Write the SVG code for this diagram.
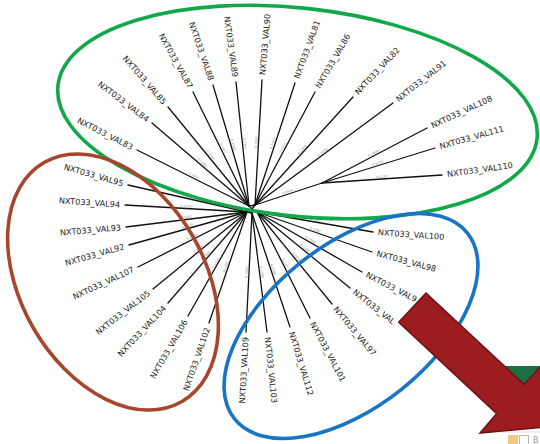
<svg xmlns="http://www.w3.org/2000/svg" width="540" height="444" viewBox="0 0 540 444">
  <style>
    .branch { stroke: #111; stroke-width: 1.3; fill: none; stroke-linecap: round; }
    .leaf { font-family: "DejaVu Sans", "Noto Sans", sans-serif; font-size: 8.1px; fill: #222222; }
    .len { font-family: "DejaVu Sans", sans-serif; font-size: 3.3px; fill: #8c8c8c; text-anchor: middle; }
    .start { text-anchor: start; }
    .end { text-anchor: end; }
    .ring { fill: none; stroke-width: 3.6; }
  </style>

  <rect width="540" height="444" fill="#ffffff"/>

  <!-- tree branches -->
  <g id="connectors">
    <!-- short internal branches meeting at the root -->
    <path class="branch" d="M252 209 L249 206 M252 209 L255 205 M252 209 L257 212 M252 209 L252 213 M252 209 L247 212 M249 206 L255 205 M247 212 L252 213"/>
    <path class="branch" d="M322 183 L255 205"/>
    <!-- upper-left clade -->
    <path class="branch" d="M249 206 L137 150"/>
    <path class="branch" d="M249 206 L152 123"/>
    <path class="branch" d="M249 206 L168 107"/>
    <path class="branch" d="M249 206 L193 92"/>
    <path class="branch" d="M249 206 L213 85"/>
    <path class="branch" d="M249 206 L236 82"/>
    <!-- upper-right clade -->
    <path class="branch" d="M255 205 L262 80"/>
    <path class="branch" d="M255 205 L295 83"/>
    <path class="branch" d="M255 205 L315 92"/>
    <path class="branch" d="M255 205 L353 97"/>
    <path class="branch" d="M255 205 L393 103"/>
    <path class="branch" d="M322 183 L427 128"/>
    <path class="branch" d="M322 183 L435 148"/>
    <path class="branch" d="M322 183 L442 175"/>
    <!-- left clade -->
    <path class="branch" d="M247 212 L128 185"/>
    <path class="branch" d="M247 212 L125 205"/>
    <path class="branch" d="M247 212 L126 227"/>
    <path class="branch" d="M247 212 L129 245"/>
    <path class="branch" d="M247 212 L138 267"/>
    <path class="branch" d="M247 212 L153 289"/>
    <path class="branch" d="M247 212 L168 303"/>
    <path class="branch" d="M247 212 L188 316"/>
    <path class="branch" d="M247 212 L209 323"/>
    <!-- lower clade -->
    <path class="branch" d="M252 213 L246 332"/>
    <path class="branch" d="M252 213 L267 332"/>
    <path class="branch" d="M252 213 L290 327"/>
    <path class="branch" d="M257 212 L310 318"/>
    <path class="branch" d="M257 212 L332 304"/>
    <path class="branch" d="M257 212 L350 288"/>
    <path class="branch" d="M257 212 L362 272"/>
    <path class="branch" d="M257 212 L372 252"/>
    <path class="branch" d="M257 212 L373 232"/>
  </g>

  <!-- branch lengths -->
  <g id="branch-lengths">
    <text class="len" x="193" y="178" dy="-1.2" transform="rotate(26.6 193 178)">0.1557</text>
    <text class="len" x="200.5" y="164.5" dy="-1.2" transform="rotate(40.6 200.5 164.5)">0.1389</text>
    <text class="len" x="208.5" y="156.5" dy="-1.2" transform="rotate(50.7 208.5 156.5)">0.1500</text>
    <text class="len" x="221" y="149" dy="-1.2" transform="rotate(63.8 221 149)">0.1431</text>
    <text class="len" x="231" y="145.5" dy="-1.2" transform="rotate(73.4 231 145.5)">0.1500</text>
    <text class="len" x="242.5" y="144" dy="-1.2" transform="rotate(84 242.5 144)">0.1367</text>
    <text class="len" x="258.5" y="142.5" dy="-1.2" transform="rotate(-86.8 258.5 142.5)">0.1500</text>
    <text class="len" x="275" y="144" dy="-1.2" transform="rotate(-71.8 275 144)">0.1363</text>
    <text class="len" x="285" y="148.5" dy="-1.2" transform="rotate(-62 285 148.5)">0.1357</text>
    <text class="len" x="304" y="151" dy="-1.2" transform="rotate(-47.8 304 151)">0.1409</text>
    <text class="len" x="324" y="154" dy="-1.2" transform="rotate(-36.5 324 154)">0.1498</text>
    <text class="len" x="374.5" y="155.5" dy="-1.2" transform="rotate(-27.6 374.5 155.5)">0.1499</text>
    <text class="len" x="378.5" y="165.5" dy="-1.2" transform="rotate(-17.2 378.5 165.5)">0.1500</text>
    <text class="len" x="382" y="179" dy="-1.2" transform="rotate(-3.8 382 179)">0.1235</text>
    <text class="len" x="288.5" y="194" dy="-1.2" transform="rotate(-18.2 288.5 194)">0.0424</text>
    <text class="len" x="187.5" y="198.5" dy="-1.2" transform="rotate(12.8 187.5 198.5)">0.1557</text>
    <text class="len" x="186" y="208.5" dy="-1.2" transform="rotate(3.3 186 208.5)">0.1500</text>
    <text class="len" x="186.5" y="219.5" dy="-1.2" transform="rotate(-7.1 186.5 219.5)">0.1451</text>
    <text class="len" x="188" y="228.5" dy="-1.2" transform="rotate(-15.6 188 228.5)">0.1500</text>
    <text class="len" x="192.5" y="239.5" dy="-1.2" transform="rotate(-26.8 192.5 239.5)">0.1389</text>
    <text class="len" x="200" y="250.5" dy="-1.2" transform="rotate(-39.3 200 250.5)">0.1500</text>
    <text class="len" x="207.5" y="257.5" dy="-1.2" transform="rotate(-49 207.5 257.5)">0.1406</text>
    <text class="len" x="217.5" y="264" dy="-1.2" transform="rotate(-60.4 217.5 264)">0.1500</text>
    <text class="len" x="228" y="267.5" dy="-1.2" transform="rotate(-71.1 228 267.5)">0.1395</text>
    <text class="len" x="249" y="272.5" dy="-1.2" transform="rotate(-87.1 249 272.5)">0.1500</text>
    <text class="len" x="259.5" y="272.5" dy="-1.2" transform="rotate(82.8 259.5 272.5)">0.1395</text>
    <text class="len" x="271" y="270" dy="-1.2" transform="rotate(71.6 271 270)">0.1500</text>
    <text class="len" x="283.5" y="265" dy="-1.2" transform="rotate(63.4 283.5 265)">0.1437</text>
    <text class="len" x="294.5" y="258" dy="-1.2" transform="rotate(50.8 294.5 258)">0.1500</text>
    <text class="len" x="303.5" y="250" dy="-1.2" transform="rotate(39.3 303.5 250)">0.1389</text>
    <text class="len" x="309.5" y="242" dy="-1.2" transform="rotate(29.7 309.5 242)">0.1500</text>
    <text class="len" x="314.5" y="232" dy="-1.2" transform="rotate(19.2 314.5 232)">0.1392</text>
    <text class="len" x="315" y="222" dy="-1.2" transform="rotate(9.8 315 222)">0.1392</text>
  </g>

  <!-- leaves: upper clade -->
  <g id="val83"><text class="leaf end" x="132.5" y="147.7" dy="0.35em" transform="rotate(27 132.5 147.7)">NXT033_VAL83</text></g>
  <g id="val84"><text class="leaf end" x="148" y="120" dy="0.35em" transform="rotate(37 148 120)">NXT033_VAL84</text></g>
  <g id="val85"><text class="leaf end" x="164.7" y="103.2" dy="0.35em" transform="rotate(49 164.7 103.2)">NXT033_VAL85</text></g>
  <g id="val87"><text class="leaf end" x="190.6" y="87.6" dy="0.35em" transform="rotate(61 190.6 87.6)">NXT033_VAL87</text></g>
  <g id="val88"><text class="leaf end" x="211.4" y="80.3" dy="0.35em" transform="rotate(71 211.4 80.3)">NXT033_VAL88</text></g>
  <g id="val89"><text class="leaf end" x="235.3" y="77" dy="0.35em" transform="rotate(82 235.3 77)">NXT033_VAL89</text></g>
  <g id="val90"><text class="leaf start" x="262.4" y="75" dy="0.35em" transform="rotate(-85 262.4 75)">NXT033_VAL90</text></g>
  <g id="val81"><text class="leaf start" x="296.7" y="78.3" dy="0.35em" transform="rotate(-70 296.7 78.3)">NXT033_VAL81</text></g>
  <g id="val86"><text class="leaf start" x="317.5" y="87.7" dy="0.35em" transform="rotate(-60 317.5 87.7)">NXT033_VAL86</text></g>
  <g id="val82"><text class="leaf start" x="356.4" y="93.3" dy="0.35em" transform="rotate(-47 356.4 93.3)">NXT033_VAL82</text></g>
  <g id="val91"><text class="leaf start" x="396.9" y="99.9" dy="0.35em" transform="rotate(-38 396.9 99.9)">NXT033_VAL91</text></g>
  <g id="val108"><text class="leaf start" x="431.5" y="125.9" dy="0.35em" transform="rotate(-25 431.5 125.9)">NXT033_VAL108</text></g>
  <g id="val111"><text class="leaf start" x="439.8" y="146.6" dy="0.35em" transform="rotate(-16 439.8 146.6)">NXT033_VAL111</text></g>
  <g id="val110"><text class="leaf start" x="447" y="174.3" dy="0.35em" transform="rotate(-8 447 174.3)">NXT033_VAL110</text></g>

  <!-- leaves: left clade -->
  <g id="val95"><text class="leaf end" x="123.2" y="183.6" dy="0.35em" transform="rotate(16 123.2 183.6)">NXT033_VAL95</text></g>
  <g id="val94"><text class="leaf end" x="120" y="204.7" dy="0.35em" transform="rotate(4 120 204.7)">NXT033_VAL94</text></g>
  <g id="val93"><text class="leaf end" x="121" y="227.4" dy="0.35em" transform="rotate(-5 121 227.4)">NXT033_VAL93</text></g>
  <g id="val92"><text class="leaf end" x="124.2" y="246.4" dy="0.35em" transform="rotate(-16 124.2 246.4)">NXT033_VAL92</text></g>
  <g id="val107"><text class="leaf end" x="133.5" y="269.1" dy="0.35em" transform="rotate(-25 133.5 269.1)">NXT033_VAL107</text></g>
  <g id="val105"><text class="leaf end" x="149.1" y="292.1" dy="0.35em" transform="rotate(-38 149.1 292.1)">NXT033_VAL105</text></g>
  <g id="val104"><text class="leaf end" x="164.6" y="306.7" dy="0.35em" transform="rotate(-47 164.6 306.7)">NXT033_VAL104</text></g>
  <g id="val106"><text class="leaf end" x="185.5" y="320.3" dy="0.35em" transform="rotate(-60 185.5 320.3)">NXT033_VAL106</text></g>
  <g id="val102"><text class="leaf end" x="207.4" y="327.7" dy="0.35em" transform="rotate(-71 207.4 327.7)">NXT033_VAL102</text></g>

  <!-- leaves: lower clade -->
  <g id="val109"><text class="leaf end" x="245.7" y="337" dy="0.35em" transform="rotate(-87 245.7 337)">NXT033_VAL109</text></g>
  <g id="val103"><text class="leaf start" x="267.5" y="337" dy="0.35em" transform="rotate(84 267.5 337)">NXT033_VAL103</text></g>
  <g id="val112"><text class="leaf start" x="291.5" y="331.8" dy="0.35em" transform="rotate(73 291.5 331.8)">NXT033_VAL112</text></g>
  <g id="val101"><text class="leaf start" x="312.3" y="322.4" dy="0.35em" transform="rotate(62 312.3 322.4)">NXT033_VAL101</text></g>
  <g id="val97"><text class="leaf start" x="335.2" y="307.8" dy="0.35em" transform="rotate(50 335.2 307.8)">NXT033_VAL97</text></g>
  <g id="val-a"><text class="leaf start" x="353.9" y="291.1" dy="0.35em" transform="rotate(38 353.9 291.1)">NXT033_VAL</text></g>
  <g id="val-b"><text class="leaf start" x="366.5" y="274.3" dy="0.35em" transform="rotate(27 366.5 274.3)">NXT033_VAL9</text></g>
  <g id="val98"><text class="leaf start" x="376.8" y="253.3" dy="0.35em" transform="rotate(15 376.8 253.3)">NXT033_VAL98</text></g>
  <g id="val100"><text class="leaf start" x="378" y="232.3" dy="0.35em" transform="rotate(4 378 232.3)">NXT033_VAL100</text></g>

  <!-- clade outlines -->
  <g id="clade-rings">
    <ellipse class="ring" stroke="#12a84a" cx="297.5" cy="112" rx="241" ry="104" transform="rotate(6.3 297.5 112)"/>
    <ellipse class="ring" stroke="#a5462d" cx="113" cy="282" rx="138" ry="92" transform="rotate(60 113 282)"/>
    <ellipse class="ring" stroke="#1874c4" cx="351" cy="326" rx="149" ry="81" transform="rotate(-38.6 351 326)" stroke-width="3.2"/>
  </g>

  <!-- corner window fragments -->
  <g id="corner-bits">
    <rect x="505" y="366" width="36" height="20" fill="#1d6f43"/>
    <line x1="500" y1="432" x2="540" y2="432" stroke="#e2e2e2" stroke-width="1"/>
    <rect x="508" y="435" width="10" height="9" fill="#f0c987"/>
    <rect x="519.5" y="435.5" width="9" height="9" fill="#ffffff" stroke="#b8b8b8" stroke-width="1"/>
    <text x="533" y="443" font-family="DejaVu Sans, sans-serif" font-size="8" fill="#9a9a9a">B</text>
  </g>

  <!-- pointer arrow -->
  <g id="arrow">
    <path d="M426 293 L524 384.4 L541.5 365.7 L541 427.5 L480 433 L496.7 413.6 L398.7 322.2 Z" fill="#9c1c20" stroke="#6d1114" stroke-width="1.5" stroke-linejoin="miter"/>
  </g>
</svg>
